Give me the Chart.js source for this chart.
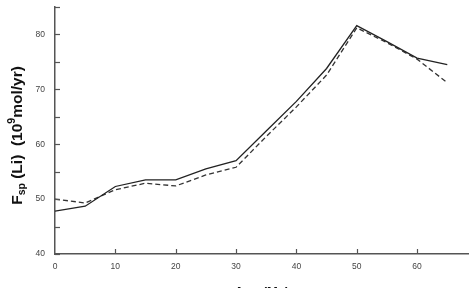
<!DOCTYPE html>
<html>
<head>
<meta charset="utf-8">
<script src="https://cdn.jsdelivr.net/npm/chart.js@4/dist/chart.umd.min.js"></script>
<style>
html,body{margin:0;padding:0;background:#fff;overflow:hidden;width:469px;height:288px;}
canvas{display:block;}
</style>
</head>
<body>
<canvas id="c" width="469" height="300"></canvas>
<script>
// Data
const ages = [0, 5, 10, 15, 20, 25, 30, 35, 40, 45, 50, 55, 60, 65];
const fspSolid  = [47.8, 48.7, 52.3, 53.5, 53.5, 55.5, 57.0, 62.4, 67.8, 73.8, 81.6, 78.7, 75.7, 74.5];
const fspDashed = [50.0, 49.3, 51.7, 52.9, 52.4, 54.4, 55.8, 61.4, 66.8, 72.6, 81.2, 78.5, 75.5, 71.2];
const yLabelTicks = [40, 50, 60, 70, 80];
const xLabelTicks = [0, 10, 20, 30, 40, 50, 60];
const xTitle = 'Age (Ma)';

const axisColor = '#555';
const tickFont = {family: '"Liberation Sans", Arial, sans-serif', size: 8.5};

const insideTicks = {
  id: 'insideTicks',
  afterDraw(chart) {
    const ctx = chart.ctx;
    const xs = chart.scales.x, ys = chart.scales.y;
    ctx.save();
    ctx.strokeStyle = axisColor;
    ctx.lineWidth = 1.2;
    ys.ticks.forEach(t => {
      if (t.value % 5 !== 0) return;
      const py = Math.round(ys.getPixelForValue(t.value)) + 0.5;
      ctx.beginPath(); ctx.moveTo(xs.left, py); ctx.lineTo(xs.left + 5, py); ctx.stroke();
    });
    xs.ticks.forEach(t => {
      if (t.value % 10 !== 0 || t.value === 0) return;
      const px = Math.round(xs.getPixelForValue(t.value)) + 0.5;
      ctx.beginPath(); ctx.moveTo(px, ys.bottom); ctx.lineTo(px, ys.bottom - 5); ctx.stroke();
    });
    // Y axis title with subscript and superscript
    const cy = (chart.chartArea.top + chart.chartArea.bottom) / 2 + 5;
    ctx.translate(14, cy);
    ctx.rotate(-Math.PI / 2);
    ctx.fillStyle = '#111';
    ctx.textAlign = 'left';
    ctx.textBaseline = 'middle';
    const big = 'bold 15.5px "Liberation Sans", Arial, sans-serif';
    const small = 'bold 10.5px "Liberation Sans", Arial, sans-serif';
    const parts = [
      {t: 'F', f: big, dy: 0},
      {t: 'sp', f: small, dy: 4},
      {t: ' (Li)  (10', f: big, dy: 0},
      {t: '9', f: small, dy: -5.5},
      {t: 'mol/yr)', f: big, dy: 0}
    ];
    let total = 0;
    parts.forEach(p => { ctx.font = p.f; p.w = ctx.measureText(p.t).width; total += p.w; });
    let x = -total / 2;
    parts.forEach(p => { ctx.font = p.f; ctx.fillText(p.t, x, 4 + p.dy); x += p.w; });
    ctx.restore();
  }
};

new Chart(document.getElementById('c'), {
  type: 'line',
  data: {
    datasets: [
      {
        data: ages.map((a, i) => ({x: a, y: fspSolid[i]})),
        borderColor: '#222', borderWidth: 1.3, pointRadius: 0, tension: 0, fill: false
      },
      {
        data: ages.map((a, i) => ({x: a, y: fspDashed[i]})),
        borderColor: '#333', borderWidth: 1.3, borderDash: [5, 3], pointRadius: 0, tension: 0, fill: false
      }
    ]
  },
  options: {
    responsive: false,
    animation: false,
    layout: {padding: {top: 7, right: 0, left: 0, bottom: 0}},
    plugins: {legend: {display: false}, tooltip: {enabled: false}},
    scales: {
      x: {
        type: 'linear', min: 0, max: 68.6,
        grid: {drawOnChartArea: false, drawTicks: false},
        border: {display: true, color: axisColor, width: 1.5},
        ticks: {
          stepSize: 10, padding: 8, color: '#444', font: tickFont, maxRotation: 0,
          callback: v => xLabelTicks.includes(v) ? String(v) : ''
        },
        title: {display: true, text: xTitle, color: '#111',
          font: {family: '"Liberation Sans", Arial, sans-serif', size: 13, weight: 'bold'},
          padding: {top: 0, bottom: 0}},
        afterFit: s => { s.height = 46; s.paddingLeft = 0; s.paddingRight = 0; }
      },
      y: {
        min: 40, max: 85,
        grid: {drawOnChartArea: false, drawTicks: false},
        border: {display: true, color: axisColor, width: 1.5},
        ticks: {
          stepSize: 5, padding: 10, color: '#444', font: tickFont,
          callback: v => yLabelTicks.includes(v) ? String(v) : ''
        },
        afterFit: s => { s.width = 55; s.paddingTop = 0; s.paddingBottom = 0; }
      }
    }
  },
  plugins: [insideTicks]
});
</script>
</body>
</html>
